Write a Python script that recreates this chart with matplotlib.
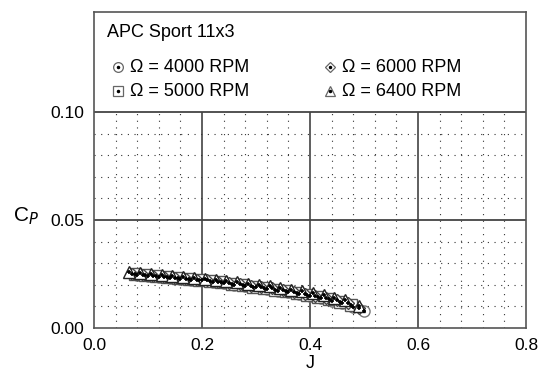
import matplotlib
matplotlib.use("Agg")
import matplotlib.pyplot as plt
import numpy as np

plt.rcParams['font.family'] = ['Liberation Sans', 'DejaVu Sans']

title = "APC Sport 11x3"
labels = ["Ω = 4000 RPM", "Ω = 5000 RPM", "Ω = 6000 RPM", "Ω = 6400 RPM"]
markers = ["o", "s", "D", "^"]

J_4000 = [0.08, 0.10, 0.12, 0.14, 0.16, 0.18, 0.20, 0.22, 0.24, 0.26, 0.28, 0.30, 0.32, 0.34, 0.36, 0.38, 0.40, 0.42, 0.44, 0.46, 0.48, 0.50]
C_4000 = [0.0245, 0.0240, 0.0236, 0.0232, 0.0228, 0.0222, 0.0220, 0.0214, 0.0208, 0.0200, 0.0193, 0.0188, 0.0180, 0.0170, 0.0165, 0.0156, 0.0148, 0.0137, 0.0126, 0.0114, 0.0098, 0.0080]
J_5000 = [0.075, 0.095, 0.115, 0.135, 0.155, 0.175, 0.195, 0.215, 0.235, 0.255, 0.275, 0.295, 0.315, 0.335, 0.355, 0.375, 0.395, 0.415, 0.435, 0.455, 0.475]
C_5000 = [0.0250, 0.0245, 0.0240, 0.0236, 0.0230, 0.0226, 0.0222, 0.0218, 0.0211, 0.0205, 0.0198, 0.0192, 0.0186, 0.0178, 0.0170, 0.0162, 0.0154, 0.0145, 0.0134, 0.0122, 0.0108]
J_6000 = [0.07, 0.09, 0.11, 0.13, 0.15, 0.17, 0.19, 0.21, 0.23, 0.25, 0.27, 0.29, 0.31, 0.33, 0.35, 0.37, 0.39, 0.41, 0.43, 0.45, 0.47, 0.49]
C_6000 = [0.0252, 0.0246, 0.0242, 0.0236, 0.0233, 0.0228, 0.0224, 0.0220, 0.0214, 0.0208, 0.0202, 0.0196, 0.0190, 0.0183, 0.0175, 0.0168, 0.0158, 0.0150, 0.0140, 0.0128, 0.0115, 0.0094]
J_6400 = [0.065, 0.085, 0.105, 0.125, 0.145, 0.165, 0.185, 0.205, 0.225, 0.245, 0.265, 0.285, 0.305, 0.325, 0.345, 0.365, 0.385, 0.405, 0.425, 0.445, 0.465, 0.49]
C_6400 = [0.0258, 0.0255, 0.0250, 0.0246, 0.0242, 0.0238, 0.0232, 0.0228, 0.0224, 0.0218, 0.0212, 0.0206, 0.0200, 0.0194, 0.0186, 0.0178, 0.0170, 0.0161, 0.0152, 0.0140, 0.0128, 0.0100]

series_J = [J_4000, J_5000, J_6000, J_6400]
series_C = [C_4000, C_5000, C_6000, C_6400]
edge_colors = ['#777777', '#555555', '#444444', '#222222']

fig = plt.figure(figsize=(5.44, 3.76), dpi=100)
ax = fig.add_axes([94/544, 1-328/376, 432/544, 316/376])
ymax = 0.10 + 100/2160
ax.set_xlim(0, 0.8)
ax.set_ylim(0, ymax)

# grid (only below 0.10)
for x in np.arange(0.04, 0.8, 0.04):
    if abs(x/0.2 - round(x/0.2)) > 1e-6:
        ax.vlines(x, 0, 0.10, colors='#333333', linestyles=(0, (1, 5)), linewidth=0.8, zorder=1)
for y in np.arange(0.01, 0.10, 0.01):
    if abs(y/0.05 - round(y/0.05)) > 1e-6:
        ax.hlines(y, 0, 0.8, colors='#333333', linestyles=(0, (1, 5)), linewidth=0.8, zorder=1)
for x in [0.2, 0.4, 0.6]:
    ax.vlines(x, 0, 0.10, colors='#333333', linewidth=1.1, zorder=1)
for y in [0.05, 0.10]:
    ax.hlines(y, 0, 0.8, colors='#444444', linewidth=1.3, zorder=1)

for Jv, Cv, m, ec in zip(series_J, series_C, markers, edge_colors):
    ms = 8 if m != 'D' else 6.5
    ax.plot(Jv, Cv, color='black', linewidth=0.9, zorder=2)
    ax.plot(Jv, Cv, linestyle='none', marker=m, markersize=ms, markerfacecolor='white',
            markeredgecolor=ec, markeredgewidth=1.0, zorder=3)
    ax.plot(Jv, Cv, linestyle='none', marker='+', markersize=3.5, markeredgewidth=1.2,
            color='black', zorder=4)

# legend-like annotations
ax.text(0.024, 0.1366, title, fontsize=13, va='center', ha='left')
lx = [0.044, 0.044, 0.437, 0.437]
ly = [0.1208, 0.1097, 0.1208, 0.1097]
for x, y, m, lab in zip(lx, ly, markers, labels):
    ms = 7 if m != 'D' else 5.5
    ax.plot([x], [y], marker=m, markersize=ms, markerfacecolor='white',
            markeredgecolor='#666666', markeredgewidth=0.9, linestyle='none', clip_on=False)
    ax.plot([x], [y], marker='.', markersize=3, color='black', linestyle='none')
    ax.text(x + 0.022, y, lab, fontsize=13, va='center', ha='left')

ax.set_xticks([0.0, 0.2, 0.4, 0.6, 0.8])
ax.set_xticklabels(["0.0", "0.2", "0.4", "0.6", "0.8"])
ax.set_yticks([0.0, 0.05, 0.10])
ax.set_yticklabels(["0.00", "0.05", "0.10"])
ax.tick_params(length=0, labelsize=12.5, pad=7)
ax.set_xlabel("J", fontsize=13, labelpad=2)
ax.set_ylabel(r"C$_{\mathit{P}}$", fontsize=15, rotation=0, va='center', ha='center')
ax.yaxis.set_label_coords(-0.157, 0.355)
for s in ax.spines.values():
    s.set_color('#555555')
    s.set_linewidth(1.2)

fig.savefig("out.png", dpi=100)
